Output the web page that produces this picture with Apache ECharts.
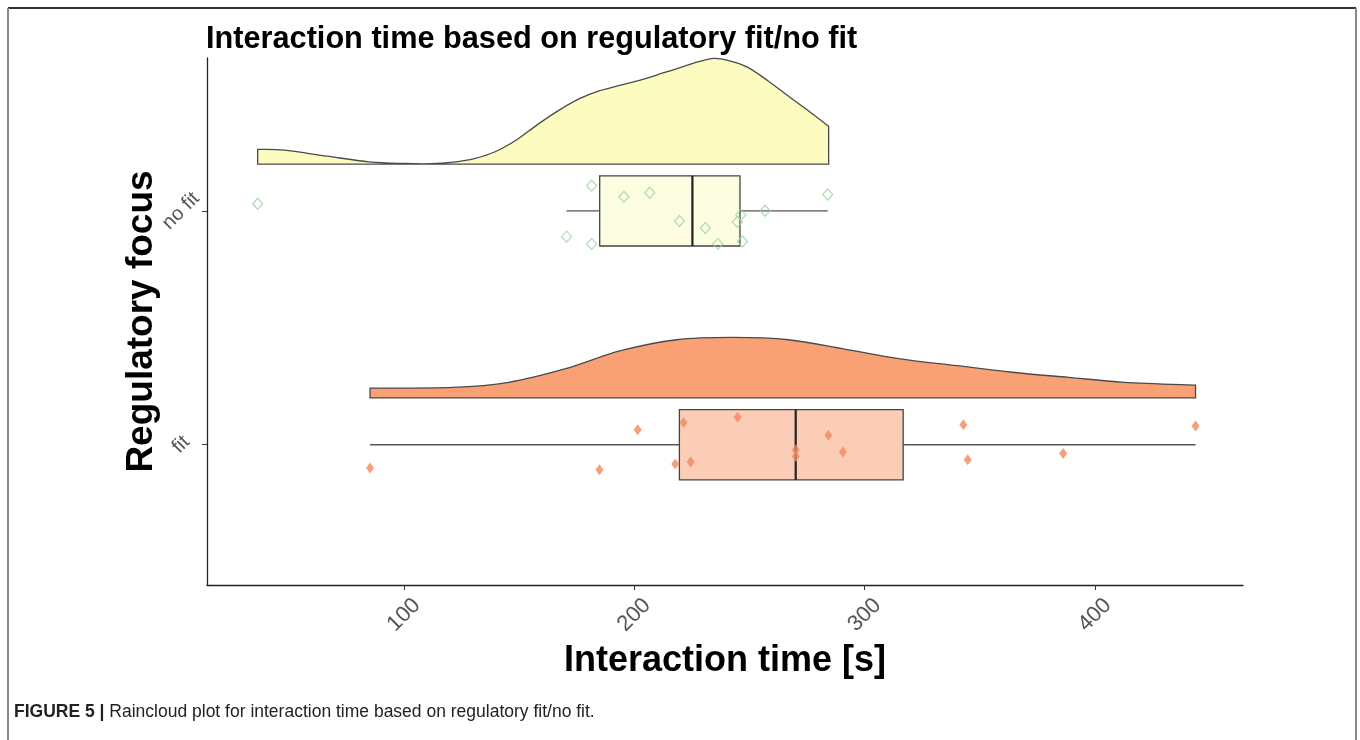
<!DOCTYPE html>
<html><head><meta charset="utf-8">
<script src="https://cdn.jsdelivr.net/npm/echarts@6.0.0/dist/echarts.min.js"></script>
<style>html,body{margin:0;padding:0;background:#fff}#c{width:1360px;height:740px}</style>
</head><body><div id="c"></div>
<script>
// ---- data ----
const categories = ['fit', 'no fit'];          // y positions 1 and 2
const xTicks = [100, 200, 300, 400];
const titleText = 'Interaction time based on regulatory fit/no fit';
const xName = 'Interaction time [s]';
const yName = 'Regulatory focus';

const noFitTimes  = [36.5, 181.5, 195.5, 206.7, 219.6, 230.9, 236.3, 246.3, 244.7, 247.0, 256.8, 284.0, 170.6, 181.5];
const noFitJitter = [0.031, 0.108, 0.061, 0.078, -0.043, -0.073, -0.141, -0.017, -0.047, -0.131, 0.001, 0.070, -0.110, -0.141];
const fitTimes    = [85.3, 184.9, 201.5, 221.4, 217.8, 224.5, 244.9, 270.1, 270.1, 284.3, 290.6, 342.9, 344.8, 386.2, 443.7];
const fitJitter   = [-0.100, -0.107, 0.064, 0.095, -0.082, -0.074, 0.117, -0.021, -0.050, 0.040, -0.031, 0.085, -0.064, -0.038, 0.080];

// half-violin (cloud) outlines: time value and cloud height (in category units)
const noFitDensityX = [36.5, 48.1, 66.7, 84.9, 100, 112, 121.4, 130.6, 139.6, 148.8, 157.8, 166.9, 176, 185, 194, 203.3, 212.5, 221.6, 228, 234.5, 241, 248.9, 258, 267, 276, 284.4];
const noFitDensity  = [0.063, 0.060, 0.034, 0.010, 0.003, 0.002, 0.009, 0.024, 0.053, 0.103, 0.168, 0.228, 0.279, 0.314, 0.338, 0.362, 0.390, 0.418, 0.438, 0.452, 0.443, 0.416, 0.357, 0.290, 0.225, 0.162];
const fitDensityX   = [85.3, 121.2, 145.5, 169.8, 194.1, 218.4, 242.7, 267, 291.3, 315.6, 340, 364.1, 388.5, 412.8, 443.7];
const fitDensity    = [0.042, 0.045, 0.067, 0.124, 0.202, 0.249, 0.259, 0.249, 0.209, 0.167, 0.138, 0.110, 0.088, 0.067, 0.055];

// ---- helpers ----
const FONT = '"Liberation Sans", Arial, Helvetica, sans-serif';
function quantile(arr, p) {
  const s = arr.slice().sort((a, b) => a - b);
  const h = (s.length - 1) * p, lo = Math.floor(h), hi = Math.ceil(h);
  return s[lo] + (h - lo) * (s[hi] - s[lo]);
}
function boxStats(arr, y) {
  const q1 = quantile(arr, 0.25), med = quantile(arr, 0.5), q3 = quantile(arr, 0.75);
  const iqr = q3 - q1;
  const inside = arr.filter(v => v >= q1 - 1.5 * iqr && v <= q3 + 1.5 * iqr);
  return [Math.min(...inside), q1, med, q3, Math.max(...inside), y];
}
const CLOUD_OFFSET = 0.2;   // cloud baseline above category centre
const BOX_HALF = 0.15;

function cloudRender(params, api, data) {
  if (params.dataIndex !== 0) return;
  const base = data[0][1];
  const pts = data.map(d => api.coord([d[0], base + d[2]]));
  const b0 = api.coord([data[0][0], base]);
  const bn = api.coord([data[data.length - 1][0], base]);
  let d = 'M' + b0[0] + ' ' + b0[1] + 'L' + pts[0][0] + ' ' + pts[0][1];
  for (let i = 0; i < pts.length - 1; i++) {
    const p0 = pts[i - 1] || pts[i], p1 = pts[i], p2 = pts[i + 1], p3 = pts[i + 2] || pts[i + 1];
    const c1 = [p1[0] + (p2[0] - p0[0]) / 6, p1[1] + (p2[1] - p0[1]) / 6];
    const c2 = [p2[0] - (p3[0] - p1[0]) / 6, p2[1] - (p3[1] - p1[1]) / 6];
    d += 'C' + c1[0] + ' ' + c1[1] + ' ' + c2[0] + ' ' + c2[1] + ' ' + p2[0] + ' ' + p2[1];
  }
  d += 'L' + bn[0] + ' ' + bn[1] + 'Z';
  return { type: 'path', shape: { pathData: d }, style: api.style() };
}
function cloudSeries(xs, hs, cat, fill) {
  const data = xs.map((x, i) => [x, cat + CLOUD_OFFSET, hs[i]]);
  return {
    type: 'custom', renderItem: (p, api) => cloudRender(p, api, data),
    data: data, encode: { x: 0, y: 1 }, z: 2, silent: true,
    itemStyle: { color: fill, borderColor: '#4a4a4a', borderWidth: 1.3 }
  };
}
function boxRender(params, api) {
  const mn = api.value(0), q1 = api.value(1), md = api.value(2), q3 = api.value(3), mx = api.value(4), y = api.value(5);
  const fill = api.style().fill;
  const a = api.coord([q1, y + BOX_HALF]), b = api.coord([q3, y - BOX_HALF]);
  const c = api.coord([mn, y]), e = api.coord([mx, y]);
  const m1 = api.coord([md, y + BOX_HALF]), m2 = api.coord([md, y - BOX_HALF]);
  return {
    type: 'group', children: [
      { type: 'line', shape: { x1: c[0], y1: c[1], x2: a[0], y2: c[1] }, style: { stroke: '#555', lineWidth: 1.4 } },
      { type: 'line', shape: { x1: b[0], y1: e[1], x2: e[0], y2: e[1] }, style: { stroke: '#555', lineWidth: 1.4 } },
      { type: 'rect', shape: { x: a[0], y: a[1], width: b[0] - a[0], height: b[1] - a[1] }, style: { fill: fill, stroke: '#444', lineWidth: 1.3 } },
      { type: 'line', shape: { x1: m1[0], y1: m1[1], x2: m2[0], y2: m2[1] }, style: { stroke: '#222', lineWidth: 2.2 } }
    ]
  };
}

const chart = echarts.init(document.getElementById('c'), null, { renderer: 'canvas' });
chart.setOption({
  backgroundColor: '#fff',
  animation: false,
  textStyle: { fontFamily: FONT },
  title: {
    text: titleText, left: 206, top: 24, padding: 0,
    textStyle: { fontFamily: FONT, fontSize: 30.7, fontWeight: 'bold', color: '#000' }
  },
  grid: { left: 207, right: 117, top: 58, bottom: 155, containLabel: false },
  xAxis: {
    type: 'value', min: 14.5, max: 464.3,
    name: xName, nameLocation: 'middle', nameGap: 58, nameMoveOverlap: false,
    nameTextStyle: { fontFamily: FONT, fontSize: 36, fontWeight: 'bold', color: '#000' },
    axisLine: { show: true, lineStyle: { color: '#222', width: 1.3 } },
    axisTick: { show: true, customValues: xTicks, length: 5, lineStyle: { color: '#333' } },
    axisLabel: {
      customValues: xTicks, rotate: 45, align: 'center', verticalAlign: 'middle', margin: 30,
      fontFamily: FONT, fontSize: 22, color: '#555'
    },
    splitLine: { show: false }
  },
  yAxis: {
    type: 'value', min: 0.4, max: 2.654,
    name: yName, nameLocation: 'middle', nameRotate: 90, nameGap: 47, nameMoveOverlap: false,
    nameTextStyle: { fontFamily: FONT, fontSize: 37, fontWeight: 'bold', color: '#000' },
    axisLine: { show: true, lineStyle: { color: '#222', width: 1.3 } },
    axisTick: { show: true, customValues: [1, 2], length: 5, lineStyle: { color: '#333' } },
    axisLabel: {
      customValues: [1, 2], rotate: 45, align: 'center', verticalAlign: 'middle', margin: 26,
      fontFamily: FONT, fontSize: 20, color: '#555',
      formatter: v => categories[Math.round(v) - 1]
    },
    splitLine: { show: false }
  },
  graphic: [
    { type: 'line', shape: { x1: 8, y1: 8, x2: 1356, y2: 8 }, style: { stroke: '#333', lineWidth: 2 } },
    { type: 'line', shape: { x1: 8, y1: 8, x2: 8, y2: 740 }, style: { stroke: '#888', lineWidth: 2 } },
    { type: 'line', shape: { x1: 1356, y1: 8, x2: 1356, y2: 740 }, style: { stroke: '#888', lineWidth: 2 } },
    {
      type: 'text', left: 14, top: 703,
      style: {
        text: '{b|FIGURE 5 |} Raincloud plot for interaction time based on regulatory fit/no fit.',
        font: '17.5px "Liberation Sans", Arial, sans-serif', fill: '#222',
        rich: { b: { fontWeight: 'bold', fontSize: 17.5, fontFamily: '"Liberation Sans", Arial, sans-serif', fill: '#222' } }
      }
    }
  ],
  series: [
    cloudSeries(noFitDensityX, noFitDensity, 2, '#fcfcc0'),
    cloudSeries(fitDensityX, fitDensity, 1, '#f9a175'),
    {
      type: 'custom', renderItem: boxRender, z: 3, silent: true,
      data: [boxStats(noFitTimes, 2)], encode: { x: [0, 4], y: 5 },
      itemStyle: { color: '#fdfde2' }
    },
    {
      type: 'custom', renderItem: boxRender, z: 3, silent: true,
      data: [boxStats(fitTimes, 1)], encode: { x: [0, 4], y: 5 },
      itemStyle: { color: 'rgba(250,196,170,0.85)' }
    },
    {
      type: 'scatter', z: 4, symbol: 'diamond', symbolSize: [10, 11],
      data: noFitTimes.map((t, i) => [t, 2 + noFitJitter[i]]),
      itemStyle: { color: 'rgba(255,255,255,0)', borderColor: '#9bd6a0', borderWidth: 1.3 }
    },
    {
      type: 'scatter', z: 4, symbol: 'diamond', symbolSize: [8, 11],
      data: fitTimes.map((t, i) => [t, 1 + fitJitter[i]]),
      itemStyle: { color: '#f08a5d' }
    }
  ]
});
</script>
</body></html>
